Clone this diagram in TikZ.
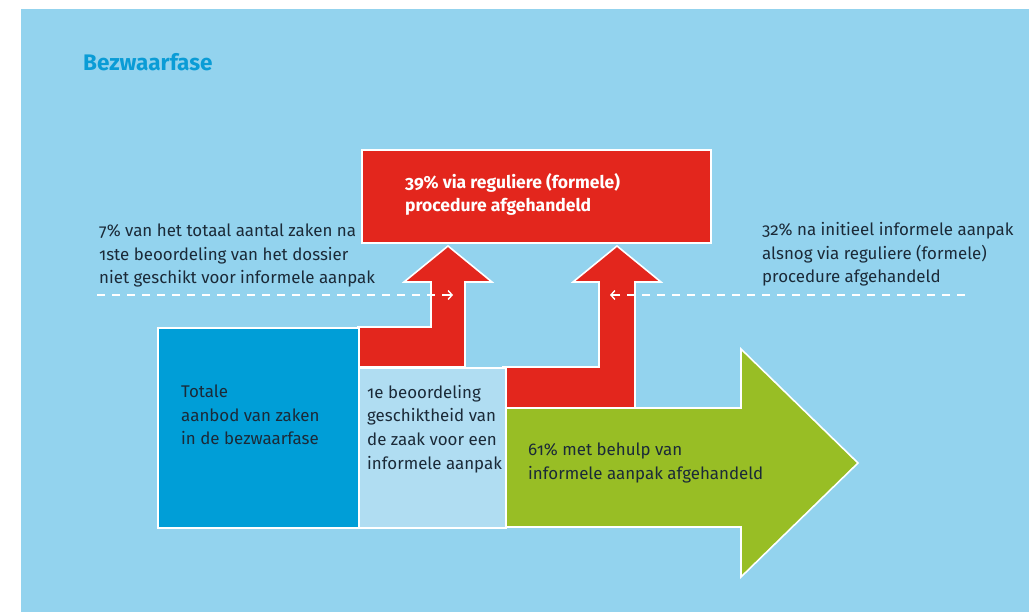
\documentclass[tikz,border=0pt]{standalone}
\usepackage{fontspec}
\setmainfont{Fira Sans}[Numbers=OldStyle]
\usetikzlibrary{arrows.meta}
\definecolor{bgblue}{HTML}{93D3EE}
\definecolor{deepblue}{HTML}{009ED7}
\definecolor{paleblue}{HTML}{B0DDF2}
\definecolor{flowred}{HTML}{E3261D}
\definecolor{flowgreen}{HTML}{98BE25}
\definecolor{inkdark}{HTML}{1B2A38}
\definecolor{titleblue}{HTML}{0A9CD6}
\tikzset{
  panel/.style={draw=white, line width=1.6pt, inner sep=0pt},
  flow/.style={draw=white, line width=1.6pt, line join=miter},
  % multi-line labels are anchored at the baseline of their last line
  label/.style={anchor=base west, align=left, inner sep=0pt, text=inkdark,
    font=\fontsize{16.9}{23.6}\selectfont},
  guide/.style={draw=white, line width=1.8pt, dash pattern=on 8pt off 7pt},
  guidetip/.style={-{Straight Barb[length=4pt,width=9pt,line width=1.4pt]}}
}
\begin{document}
\begin{tikzpicture}[x=1pt,y=-1pt]
  \useasboundingbox (0,0) rectangle (1029,612);
  % panel background
  \fill[bgblue] (21,9) rectangle (1029,612);
  \node[anchor=base west, inner sep=0pt, text=titleblue,
        font=\fontsize{22.5}{26}\selectfont\bfseries] (title) at (83,71) {Bezwaarfase};

  % red flows that leave for the formal procedure
  \path[flow, fill=flowred] (358,327) -- (431,327) -- (431,282) -- (404,282)
    -- (448,246) -- (492,282) -- (465,282) -- (465,367) -- (358,367) -- cycle;
  \path[flow, fill=flowred] (503,367) -- (599,367) -- (599,282) -- (573,282)
    -- (617,246) -- (661,282) -- (635,282) -- (635,408) -- (503,408) -- cycle;

  % green flow handled informally
  \path[flow, fill=flowgreen] (505,408) -- (741,408) -- (741,349) -- (858,463)
    -- (741,577) -- (741,527) -- (505,527) -- cycle;

  % boxes
  \node[panel, fill=deepblue, minimum width=201pt, minimum height=200pt,
        anchor=north west] (total) at (157,327) {};
  \node[panel, fill=paleblue, minimum width=147pt, minimum height=160pt,
        anchor=north west] (check) at (358,367) {};
  \node[panel, fill=flowred, minimum width=349pt, minimum height=93pt,
        anchor=north west] (formal) at (361,149) {};

  % texts
  \node[label, text=white, font=\fontsize{17.5}{23.5}\selectfont\bfseries] (formaltxt) at (405,212)
    {39\% via reguliere (formele)\\procedure afgehandeld};
  \node[label] (totaltxt) at (181,445) {Totale\\aanbod van zaken\\in de bezwaarfase};
  \node[label] (checktxt) at (367,469) {1e beoordeling\\geschiktheid van\\de zaak voor een\\informele aanpak};
  \node[label] (greentxt) at (528,479) {61\% met behulp van\\informele aanpak afgehandeld};
  \node[label] (lefttxt) at (99,284) {7\% van het totaal aantal zaken na\\1ste beoordeling van het dossier\\niet geschikt voor informele aanpak};
  \node[label] (righttxt) at (762,283) {32\% na initieel informele aanpak\\alsnog via reguliere (formele)\\procedure afgehandeld};

  % dashed guides pointing into the red arrows
  \coordinate (gl) at (97,295);
  \coordinate (gle) at (453,295);
  \coordinate (gr) at (965,295);
  \coordinate (gre) at (610,295);
  \draw[guide] (gl) -- (gle);
  \draw[guide] (gr) -- (gre);
  \draw[guidetip, draw=white, line width=1.8pt] (444,295) -- (gle);
  \draw[guidetip, draw=white, line width=1.8pt] (619,295) -- (gre);
\end{tikzpicture}
\end{document}
